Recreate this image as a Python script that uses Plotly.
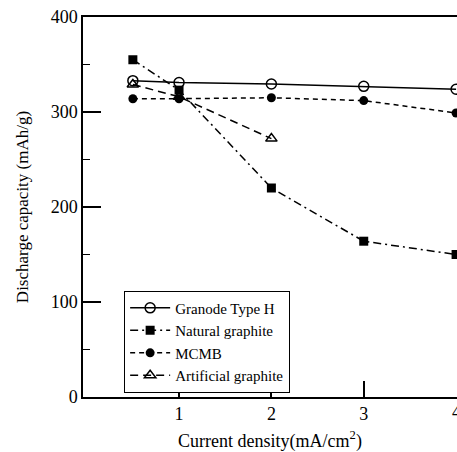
import plotly.graph_objects as go

# Discharge capacity vs. current density for four anode materials
current_density = [0.5, 1, 2, 3, 4]
granode_type_h = [333, 331, 329.5, 327, 324]
natural_graphite = [355, 323, 220, 164, 150]
mcmb = [314, 314, 315, 312, 299]
artificial_x = [0.5, 1, 2]
artificial_graphite = [329, 316, 272]

x_ticks = [1, 2, 3]
edge_tick = 4
y_ticks = [0, 100, 200, 300, 400]

FONT = "Liberation Serif, Times New Roman, serif"

fig = go.Figure()

fig.add_trace(go.Scatter(
    x=current_density, y=granode_type_h, name="Granode Type H",
    mode="lines+markers",
    line=dict(color="black", width=1.5),
    marker=dict(symbol="circle-open", size=10, color="black", line=dict(width=1.5)),
))
fig.add_trace(go.Scatter(
    x=current_density, y=natural_graphite, name="Natural graphite",
    mode="lines+markers",
    line=dict(color="black", width=1.5, dash="8px,4px,2px,4px"),
    marker=dict(symbol="square", size=9, color="black"),
))
fig.add_trace(go.Scatter(
    x=current_density, y=mcmb, name="MCMB",
    mode="lines+markers",
    line=dict(color="black", width=1.5, dash="5px,4px"),
    marker=dict(symbol="circle", size=9, color="black"),
))
fig.add_trace(go.Scatter(
    x=artificial_x, y=artificial_graphite, name="Artificial graphite",
    mode="lines+markers",
    line=dict(color="black", width=1.5, dash="8px,5px"),
    marker=dict(symbol="triangle-up-open", size=10, color="black", line=dict(width=1.5)),
))

# the last tick label sits on the right edge of the figure
fig.add_annotation(
    x=edge_tick, y=0, xref="x", yref="y", text=str(edge_tick),
    showarrow=False, yanchor="top", yshift=-3,
    font=dict(family=FONT, size=18, color="black"),
)

fig.update_layout(
    width=457, height=452,
    margin=dict(l=83, r=0, t=17, b=55),
    paper_bgcolor="white", plot_bgcolor="white",
    font=dict(family=FONT, color="black"),
    showlegend=True,
    legend=dict(
        x=0.11, y=0.28, xanchor="left", yanchor="top",
        bgcolor="white", bordercolor="black", borderwidth=1,
        font=dict(family=FONT, size=15, color="black"),
        tracegroupgap=0, itemwidth=40,
    ),
)

fig.update_xaxes(
    range=[-0.04, 4.01],
    tickvals=x_ticks, ticktext=[str(v) for v in x_ticks],
    ticks="inside", ticklen=16, tickwidth=1.5, tickcolor="black",
    showline=True, linecolor="black", linewidth=1.5, mirror=True,
    showgrid=False, zeroline=False,
    tickfont=dict(family=FONT, size=18),
    title=dict(text="Current density(mA/cm<sup>2</sup>)",
               font=dict(family=FONT, size=18), standoff=12),
)
fig.update_yaxes(
    range=[0, 400],
    tickvals=y_ticks, ticktext=[str(v) for v in y_ticks],
    ticks="inside", ticklen=18, tickwidth=1.5, tickcolor="black",
    minor=dict(dtick=50, ticks="inside", ticklen=7, tickwidth=1.2, tickcolor="black"),
    showline=True, linecolor="black", linewidth=1.5,
    showgrid=False, zeroline=False,
    tickfont=dict(family=FONT, size=18),
    title=dict(text="Discharge capacity (mAh/g)",
               font=dict(family=FONT, size=17), standoff=18),
)

fig.write_html("out.html")
